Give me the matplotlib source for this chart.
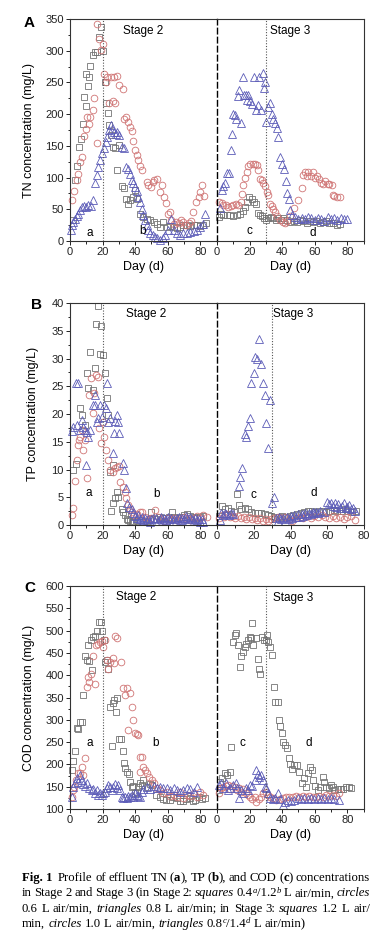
import re
import matplotlib
matplotlib.use('Agg')
import matplotlib.pyplot as plt
from matplotlib.ticker import MultipleLocator

# ---------------- TN (mg/L) ----------------
tn_s2_sq_day = [1.6, 3.1, 4.5, 5.7, 6.8, 7.8, 8.6, 9.8, 9.8, 11.3, 11.9, 12.3, 13.9, 15.2, 16.8, 18.1, 19.3,
                20.5, 21.5, 22.2, 23.4, 24.2, 25.4, 26.7, 27.7, 29.1, 29.9, 32.0, 33.2, 34.5, 35.7, 36.9,
                38.6, 40.0, 41.4, 43.1, 45.1, 47.2, 49.2, 51.3, 53.3, 55.4, 57.4, 59.5, 61.5, 63.6, 65.6,
                67.7, 69.7, 71.8, 73.8, 75.9, 77.9, 80.0, 82.0, 83.7]
tn_s2_sq_val = [33, 96, 119, 148, 161, 185, 227, 213, 263, 244, 258, 276, 294, 298, 298, 322, 338,
                300, 250, 217, 202, 183, 167, 148, 146, 112, 151, 86, 83, 67, 59, 64,
                69, 80, 67, 43, 38, 35, 33, 30, 27, 22, 30, 22, 23, 22, 20,
                22, 25, 26, 23, 25, 26, 23, 26, 28]
tn_s2_ci_day = [1.0, 2.5, 4.1, 5.1, 6.2, 7.4, 8.6, 9.8, 10.7, 11.9, 12.3, 13.9, 14.8, 16.8, 16.4, 18.1,
                18.9, 20.1, 21.1, 22.2, 23.0, 24.2, 25.4, 26.3, 27.1, 27.9, 29.1, 30.4, 32.4, 33.2, 34.5,
                35.9, 36.9, 37.9, 39.0, 40.0, 41.0, 42.0, 43.1, 44.1, 47.2, 48.2, 49.6, 50.9, 51.7, 53.3,
                55.0, 56.4, 57.8, 59.1, 60.5, 61.5, 61.9, 63.6, 65.2, 66.7, 68.1, 69.7, 71.4, 72.8, 74.3,
                75.7, 77.5, 79.0, 79.6, 81.0, 82.5]
tn_s2_ci_val = [64, 79, 96, 106, 125, 133, 165, 177, 195, 185, 196, 207, 225, 155, 342, 318,
                301, 311, 263, 251, 258, 218, 258, 221, 258, 217, 260, 246, 239, 193, 196,
                188, 180, 174, 158, 143, 135, 127, 119, 112, 93, 89, 85, 93, 96, 98,
                77, 88, 69, 60, 43, 46, 33, 27, 30, 28, 33, 30, 26, 28, 32,
                46, 62, 70, 78, 88, 71]
tn_s2_tr_day = [0.4, 1.0, 2.0, 3.1, 4.1, 5.1, 6.2, 7.4, 8.6, 9.8, 11.3, 12.7, 14.4, 15.6, 16.4, 17.4,
                18.5, 19.5, 20.9, 22.2, 23.0, 24.2, 25.0, 25.8, 27.1, 28.3, 29.1, 29.9, 31.8, 33.2, 34.5,
                35.7, 36.9, 37.9, 39.0, 40.0, 41.0, 42.0, 43.1, 44.1, 45.1, 46.2, 47.2, 48.2, 49.2, 50.9,
                52.3, 53.7, 55.4, 57.0, 58.5, 60.5, 61.9, 63.6, 65.6, 67.7, 69.7, 71.8, 73.8, 75.9, 77.9,
                80.0, 81.6, 83.1]
tn_s2_tr_val = [17, 25, 30, 35, 39, 43, 49, 53, 55, 54, 56, 55, 65, 91, 104, 117,
                127, 138, 146, 156, 164, 175, 183, 177, 172, 169, 172, 167, 148, 146, 117,
                114, 106, 96, 91, 85, 79, 69, 62, 51, 41, 33, 26, 17, 12, 9,
                6, 4, 2, 5, 9, 17, 34, 17, 12, 9, 13, 12, 14, 16, 18,
                22, 27, 43]

tn_s3_sq_day = [1.4, 2.3, 3.9, 6.0, 8.0, 10.0, 12.0, 14.0, 15.8, 17.2, 18.7, 19.9, 21.3, 22.8, 24.0, 25.4,
                26.5, 27.5, 29.0, 30.2, 31.6, 33.0, 34.7, 36.3, 37.7, 39.2, 40.8, 42.9, 44.9, 47.0, 49.0,
                51.0, 53.0, 55.0, 57.0, 59.0, 61.0, 63.0, 65.0, 67.0, 69.0, 71.0, 73.6, 75.5]
tn_s3_sq_val = [38, 43, 41, 41, 41, 39, 41, 43, 48, 53, 62, 70, 67, 62, 58, 44,
                41, 39, 36, 33, 36, 38, 36, 33, 36, 33, 36, 33, 30, 32, 30,
                33, 31, 29, 32, 30, 31, 28, 30, 32, 29, 28, 25, 27]
tn_s3_ci_day = [1.4, 2.9, 3.9, 5.5, 7.0, 8.4, 10.0, 11.7, 13.0, 14.6, 15.6, 16.2, 17.2, 18.3, 19.3, 20.3,
                21.9, 23.4, 24.4, 25.4, 26.5, 27.5, 28.5, 29.5, 30.6, 31.6, 32.6, 33.6, 34.7, 35.7, 37.0,
                38.8, 40.4, 41.8, 43.3, 44.9, 47.0, 50.0, 52.0, 53.0, 54.2, 55.2, 56.2, 57.6, 58.9, 60.3,
                61.3, 62.4, 63.8, 65.0, 66.5, 67.9, 69.1, 70.6, 71.2, 72.0, 73.6, 75.3]
tn_s3_ci_val = [62, 60, 57, 57, 53, 55, 57, 58, 57, 62, 74, 88, 99, 108, 118, 121,
                121, 122, 120, 112, 97, 96, 92, 86, 78, 73, 59, 55, 50, 45, 39,
                33, 30, 29, 32, 39, 52, 64, 83, 104, 108, 103, 108, 103, 109, 100,
                103, 97, 92, 90, 94, 90, 90, 88, 73, 71, 70, 69]
tn_s3_tr_day = [1.8, 2.9, 3.9, 5.0, 6.0, 7.6, 8.4, 9.2, 9.6, 11.0, 11.5, 13.0, 13.7, 15.0, 16.2, 16.6,
                17.8, 18.7, 19.3, 20.3, 21.3, 22.8, 24.0, 25.4, 26.0, 26.9, 28.1, 29.0, 29.5, 30.2, 31.6,
                32.6, 33.6, 34.7, 35.7, 36.7, 37.7, 38.8, 39.8, 41.4, 42.5, 43.3, 44.3, 44.9, 46.0, 48.0,
                50.0, 52.0, 54.0, 56.0, 58.0, 60.0, 62.0, 64.0, 66.0, 68.0, 70.0, 72.0, 74.0, 76.0, 78.0,
                79.8]
tn_s3_tr_val = [52, 80, 86, 92, 107, 107, 143, 169, 201, 199, 193, 228, 238, 186, 259, 230,
                230, 222, 230, 220, 216, 259, 207, 214, 259, 207, 265, 241, 251, 187, 212,
                217, 201, 193, 186, 178, 164, 133, 122, 113, 94, 76, 67, 49, 41, 38,
                35, 37, 34, 38, 36, 33, 37, 35, 32, 38, 34, 36, 33, 37, 35,
                35]

# ---------------- TP (mg/L) ----------------
tp_s2_sq_day = [2.0, 3.7, 6.2, 7.2, 9.2, 10.7, 11.3, 12.3, 13.9, 15.2, 16.0, 17.0, 18.5, 19.0, 20.5, 21.5,
                22.6, 23.6, 24.6, 25.0, 26.3, 26.7, 27.7, 28.7, 29.7, 31.8, 32.8, 33.8, 34.9, 35.9, 36.9,
                38.0, 39.0, 41.0, 43.0, 45.0, 47.0, 49.0, 50.0, 53.0, 55.0, 57.0, 59.0, 61.0, 62.5, 64.0,
                66.0, 68.0, 70.0, 72.0, 74.0, 76.0, 78.0, 80.0, 82.0]
tp_s2_sq_val = [9.9, 11.0, 21.0, 19.8, 18.0, 27.4, 24.6, 31.1, 24.3, 28.2, 36.2, 39.5, 30.9, 35.9, 30.6, 27.4,
                22.8, 19.8, 9.6, 2.5, 10.8, 3.9, 4.8, 6.0, 5.1, 2.8, 2.4, 1.8, 1.0, 0.9, 0.8,
                0.6, 0.5, 0.7, 0.9, 0.6, 0.8, 1.0, 2.4, 1.1, 1.4, 1.2, 1.3, 1.5, 2.3, 1.4,
                1.3, 1.5, 1.8, 1.9, 1.6, 1.5, 1.3, 1.4, 1.6]
tp_s2_ci_day = [1.0, 2.0, 3.1, 4.5, 5.1, 5.5, 6.2, 7.2, 8.2, 9.2, 10.7, 11.9, 12.7, 14.0, 14.8, 16.0,
                17.4, 18.0, 19.0, 20.1, 21.1, 22.2, 23.2, 24.6, 26.3, 27.7, 28.7, 29.9, 30.8, 32.4, 33.8,
                34.5, 35.9, 36.9, 38.0, 39.5, 41.0, 43.0, 44.5, 46.0, 48.0, 50.0, 52.3, 54.0, 56.0, 58.0,
                60.0, 62.0, 64.0, 66.0, 68.0, 70.0, 72.0, 74.0, 76.0, 78.0, 80.0, 82.0, 84.0]
tp_s2_ci_val = [1.8, 3.0, 7.9, 11.7, 14.4, 15.3, 15.9, 17.1, 13.5, 15.3, 8.4, 23.4, 26.4, 20.1, 23.7, 27.0,
                26.6, 17.4, 14.8, 18.6, 15.9, 13.5, 11.7, 10.0, 9.6, 10.2, 10.5, 10.6, 7.8, 6.9, 6.0,
                4.8, 3.6, 2.8, 2.3, 1.8, 2.0, 2.4, 2.3, 1.5, 1.0, 1.2, 2.7, 1.5, 1.0, 0.8,
                1.2, 1.0, 1.3, 0.9, 1.1, 1.5, 1.2, 0.9, 1.3, 1.6, 1.2, 1.8, 1.5]
tp_s2_tr_day = [1.0, 2.0, 3.7, 4.5, 5.1, 6.2, 7.2, 8.2, 9.2, 9.8, 10.7, 11.3, 12.3, 13.9, 15.4, 15.6,
                16.4, 17.4, 18.5, 19.5, 20.9, 22.2, 23.0, 23.6, 24.6, 26.3, 27.1, 27.7, 28.7, 29.7, 30.4,
                32.4, 33.2, 34.5, 35.3, 36.5, 37.9, 39.0, 40.0, 41.0, 42.0, 43.0, 44.0, 45.0, 46.0, 47.0,
                48.0, 49.0, 50.0, 51.0, 52.0, 53.0, 54.0, 55.0, 56.0, 57.0, 58.0, 59.0, 60.0, 61.0, 62.0,
                63.0, 64.0, 65.0, 66.0, 67.0, 68.0, 69.0, 70.0, 71.0, 72.0, 73.0, 74.0, 75.0, 76.0, 77.0,
                78.0, 79.0, 80.0, 81.0, 82.0]
tp_s2_tr_val = [16.9, 17.7, 25.5, 18.0, 25.6, 17.1, 18.9, 17.6, 17.1, 10.9, 16.8, 15.9, 17.1, 21.6, 23.4, 21.6,
                18.6, 19.2, 21.6, 19.5, 21.6, 21.0, 25.5, 18.6, 19.2, 12.9, 16.6, 18.8, 19.8, 18.6, 16.6,
                11.1, 9.9, 6.6, 3.9, 3.3, 2.8, 2.1, 1.6, 1.2, 1.8, 1.0, 1.4, 0.9, 1.3, 0.8,
                1.1, 0.6, 1.0, 1.3, 0.8, 1.2, 0.7, 1.0, 1.4, 0.8, 1.2, 0.9, 1.5, 1.0, 1.3,
                0.8, 1.1, 0.7, 1.2, 1.5, 0.9, 1.3, 1.0, 1.6, 1.2, 0.8, 1.4, 1.0, 0.7, 1.3,
                0.9, 1.1, 0.6, 1.0, 0.5]

tp_s3_sq_day = [1.0, 2.5, 4.2, 6.0, 7.8, 9.5, 11.1, 12.0, 13.3, 15.1, 16.9, 18.7, 20.5, 22.4, 24.2, 26.0,
                27.8, 29.6, 31.5, 33.5, 35.5, 37.5, 39.5, 41.5, 43.5, 45.5, 47.5, 49.5, 51.5, 53.5, 55.5,
                57.5, 59.5, 61.5, 63.5, 65.5, 67.5, 69.5, 71.5, 73.5, 75.5]
tp_s3_sq_val = [1.6, 3.4, 2.8, 3.0, 2.6, 2.4, 5.6, 3.6, 2.8, 3.0, 2.8, 2.4, 2.2, 2.2, 2.1, 2.0,
                1.8, 1.6, 1.5, 1.4, 1.6, 1.5, 1.7, 1.8, 2.0, 2.2, 2.4, 2.5, 2.6, 2.4, 2.5,
                2.6, 2.4, 2.5, 2.7, 2.6, 2.5, 2.8, 2.6, 2.4, 2.5]
tp_s3_ci_day = [1.0, 2.5, 4.0, 5.5, 7.0, 8.5, 10.0, 11.5, 13.0, 14.5, 16.0, 17.5, 19.0, 20.5, 22.0, 23.5,
                25.0, 26.5, 28.0, 29.5, 31.0, 33.0, 35.0, 37.0, 39.0, 41.0, 43.0, 45.0, 47.0, 49.0, 51.0,
                53.0, 55.0, 57.0, 59.0, 61.0, 63.0, 65.0, 67.0, 69.0, 71.0, 73.0, 75.0]
tp_s3_ci_val = [1.2, 1.8, 1.5, 1.9, 1.4, 1.6, 1.3, 1.7, 1.2, 1.5, 1.1, 1.4, 1.0, 1.3, 0.9, 1.2,
                0.8, 1.1, 0.7, 1.0, 1.3, 1.5, 1.2, 1.4, 1.1, 0.7, 1.3, 1.5, 1.2, 1.6, 1.3,
                1.7, 1.4, 1.8, 1.5, 1.3, 1.7, 1.2, 1.5, 1.0, 1.4, 1.6, 0.9]
tp_s3_tr_day = [1.5, 2.4, 3.3, 4.2, 5.1, 6.5, 7.8, 8.7, 12.0, 12.7, 13.8, 15.1, 16.0, 16.9, 17.8, 18.7,
                20.0, 20.5, 22.0, 22.9, 24.2, 25.1, 26.0, 26.9, 27.8, 28.7, 30.2, 30.9, 32.0, 33.0, 34.0,
                35.0, 36.0, 37.0, 38.0, 39.0, 40.0, 41.0, 42.0, 43.0, 44.0, 45.0, 46.0, 47.0, 48.0, 49.0,
                50.0, 51.0, 52.0, 53.0, 54.0, 55.0, 56.0, 58.0, 60.0, 61.0, 62.0, 63.0, 64.0, 65.0, 66.0,
                67.0, 68.0, 69.0, 70.0, 71.0, 72.0, 73.0, 74.0, 75.0]
tp_s3_tr_val = [0.9, 2.1, 1.8, 2.2, 2.0, 1.8, 2.2, 2.0, 7.0, 8.7, 10.2, 16.4, 15.9, 17.8, 19.2, 25.6,
                27.3, 30.3, 30.0, 33.6, 29.0, 25.6, 23.4, 18.4, 13.8, 22.6, 3.9, 5.1, 1.2, 0.8, 1.5,
                1.0, 1.3, 0.7, 1.4, 1.1, 1.6, 1.2, 1.8, 1.4, 1.9, 1.5, 2.0, 1.7, 2.1, 1.8,
                2.2, 2.0, 2.3, 2.1, 2.4, 2.2, 2.5, 2.3, 4.2, 3.8, 4.0, 3.5, 3.9, 3.3, 3.8,
                3.0, 3.4, 3.9, 3.1, 3.3, 3.6, 2.8, 3.0, 2.6]

# ---------------- COD (mg/L) ----------------
cod_s2_sq_day = [1.0, 2.0, 3.1, 4.1, 5.1, 6.2, 7.2, 8.2, 9.2, 10.3, 11.3, 11.9, 12.7, 13.3, 14.4, 15.4,
                 16.8, 17.8, 18.9, 19.9, 20.9, 21.7, 22.6, 23.6, 24.6, 25.6, 26.3, 27.1, 28.3, 29.1, 30.4,
                 31.2, 32.4, 33.2, 34.0, 34.9, 36.1, 36.9, 37.9, 39.0, 40.0, 41.0, 42.0, 43.1, 44.1, 45.1,
                 47.2, 49.2, 50.3, 53.0, 55.0, 57.0, 59.0, 61.5, 63.5, 65.6, 67.5, 69.7, 71.5, 73.8, 75.5,
                 77.0, 79.0, 81.0, 83.0]
cod_s2_sq_val = [187, 207, 231, 282, 279, 296, 294, 356, 443, 434, 468, 432, 479, 412, 485, 487,
                 500, 519, 519, 500, 480, 430, 434, 413, 329, 241, 337, 344, 318, 350, 256,
                 256, 229, 204, 191, 184, 178, 161, 150, 151, 135, 139, 150, 159, 154, 165,
                 150, 157, 154, 132, 128, 122, 120, 120, 126, 124, 118, 117, 122, 124, 118,
                 120, 128, 122, 125]
cod_s2_ci_day = [1.0, 1.6, 2.5, 3.7, 5.1, 6.2, 7.2, 8.2, 9.2, 10.3, 11.3, 11.9, 12.7, 14.0, 15.4, 16.0,
                 17.4, 18.5, 19.5, 20.5, 21.5, 22.6, 23.6, 24.6, 26.3, 27.1, 27.7, 29.1, 31.2, 32.4, 33.8,
                 34.9, 35.9, 36.9, 37.9, 39.0, 40.0, 41.0, 42.0, 42.7, 43.1, 44.1, 45.1, 46.2, 47.2, 48.8,
                 50.3, 51.3, 53.3, 55.4, 57.4, 59.5, 61.5, 63.6, 65.5, 67.7, 69.5, 71.8, 73.8, 75.9, 78.0,
                 80.0, 82.0]
cod_s2_ci_val = [128, 143, 150, 165, 181, 180, 195, 176, 214, 374, 397, 385, 403, 443, 381, 468,
                 471, 474, 477, 464, 480, 434, 413, 430, 438, 427, 488, 484, 430, 371, 356,
                 371, 277, 360, 329, 300, 270, 268, 266, 184, 217, 217, 195, 187, 181, 172,
                 165, 158, 146, 143, 135, 139, 130, 132, 128, 139, 125, 132, 130, 135, 128,
                 139, 132]
cod_s2_tr_day = [1.0, 2.0, 3.1, 4.1, 5.1, 6.2, 7.2, 8.2, 9.2, 10.7, 11.9, 13.3, 14.4, 15.4, 16.4, 17.4,
                 18.5, 19.5, 20.5, 21.5, 22.6, 23.6, 24.6, 25.6, 26.7, 27.7, 28.7, 29.7, 30.8, 31.8, 32.8,
                 33.8, 34.9, 35.9, 36.9, 37.9, 39.0, 40.0, 41.0, 42.0, 43.1, 44.1, 45.1, 47.2, 49.2, 51.3,
                 53.3, 55.4, 57.4, 59.5, 61.5, 63.6, 65.6, 67.7, 69.7, 71.8, 73.8, 75.9, 77.9]
cod_s2_tr_val = [128, 150, 159, 169, 161, 176, 165, 156, 152, 158, 146, 143, 144, 135, 143, 131,
                 135, 131, 135, 139, 146, 154, 150, 143, 150, 156, 146, 154, 143, 128, 124,
                 128, 124, 129, 128, 131, 128, 135, 131, 129, 128, 139, 144, 150, 144, 152,
                 146, 150, 146, 146, 143, 146, 143, 139, 143, 146, 144, 139, 150]

cod_s3_sq_day = [1.2, 2.0, 3.3, 4.7, 6.1, 7.8, 8.8, 9.8, 11.0, 11.8, 13.1, 13.9, 14.9, 15.9, 16.9, 18.0,
                 19.0, 20.0, 21.0, 21.6, 22.4, 23.7, 25.1, 26.1, 26.5, 27.8, 28.6, 29.8, 30.6, 31.2, 32.7,
                 33.9, 35.3, 35.9, 37.3, 38.0, 38.8, 40.0, 40.8, 42.0, 42.9, 44.1, 44.9, 46.1, 47.6, 49.0,
                 50.6, 52.2, 53.7, 54.7, 55.7, 57.1, 58.4, 59.2, 60.4, 61.8, 63.3, 64.9, 65.9, 66.9, 68.6,
                 70.0, 71.0, 72.0, 74.1, 76.1, 77.6, 79.2, 80.8, 82.2]
cod_s3_sq_val = [143, 161, 169, 180, 176, 182, 238, 475, 490, 495, 468, 419, 442, 453, 464, 471,
                 479, 486, 483, 518, 468, 483, 436, 413, 403, 486, 480, 480, 490, 475, 463,
                 445, 374, 341, 341, 300, 285, 271, 251, 243, 236, 214, 202, 189, 199, 199,
                 184, 159, 169, 150, 180, 195, 187, 166, 152, 143, 150, 171, 161, 150, 146,
                 154, 149, 143, 144, 144, 144, 149, 149, 146]
cod_s3_ci_day = [1.2, 2.7, 3.7, 5.3, 6.7, 7.8, 9.4, 10.8, 12.2, 13.5, 14.9, 15.9, 17.6, 19.0, 20.4, 21.6,
                 23.1, 24.1, 25.7, 27.1, 28.2, 29.8, 31.2, 32.7, 34.3, 36.3, 38.4, 40.4, 42.4, 44.5, 46.5,
                 48.6, 50.6, 52.7, 54.7, 56.7, 58.8, 60.8, 62.9, 64.9, 66.9, 69.0, 71.0, 73.1, 74.7]
cod_s3_ci_val = [135, 146, 150, 152, 154, 144, 152, 149, 143, 146, 139, 144, 135, 131, 128, 122,
                 128, 116, 122, 128, 135, 139, 131, 128, 124, 120, 122, 124, 126, 128, 126,
                 129, 128, 129, 128, 129, 126, 128, 129, 128, 131, 129, 131, 129, 135]
cod_s3_tr_day = [1.2, 2.7, 3.7, 5.3, 6.7, 8.2, 9.8, 11.4, 12.2, 13.5, 14.9, 15.9, 17.6, 19.0, 20.4, 21.6,
                 23.1, 24.1, 25.1, 26.1, 27.1, 28.2, 29.2, 30.2, 31.2, 32.7, 34.3, 35.9, 37.3, 38.8, 40.4,
                 42.0, 43.5, 45.5, 47.6, 49.6, 51.6, 53.7, 55.7, 57.8, 59.8, 61.8, 63.9, 65.9, 68.0, 70.0,
                 72.0, 75.1]
cod_s3_tr_val = [154, 158, 146, 158, 143, 146, 154, 159, 146, 124, 143, 135, 146, 143, 154, 152,
                 165, 187, 178, 172, 176, 165, 150, 146, 135, 124, 122, 124, 135, 122, 109,
                 116, 120, 119, 120, 124, 122, 124, 122, 124, 122, 124, 122, 124, 122, 124,
                 122, 120]

# caption: **bold**, *italic*, ^x = italic superscript, ~ = non-breaking space
caption = [
    "**Fig.~1**~ Profile of effluent TN (**a**), TP (**b**), and COD (**c**) concentrations",
    "in Stage 2 and Stage 3 (in Stage 2: *squares* 0.4^a/1.2^b L air/min, *circles*",
    "0.6 L air/min, *triangles* 0.8 L air/min; in Stage 3: *squares* 1.2 L air/",
    "min, *circles* 1.0 L air/min, *triangles* 0.8^c/1.4^d L air/min)",
]

STYLES = [dict(marker='s', color='#747474', ms=4.6),
          dict(marker='o', color='#d07474', ms=4.8),
          dict(marker='^', color='#5c5cb8', ms=5.2)]

W, H = 388, 931
fig = plt.figure(figsize=(W / 100, H / 100), dpi=100)
plt.rcParams['font.family'] = ['Liberation Sans', 'DejaVu Sans']

X0, XM, X1 = 70, 217, 364


def fx(px):
    return px / W


def fy(py):
    return 1 - py / H


def style_axis(ax, ymin, ymax, ystep):
    ax.set_ylim(ymin, ymax)
    ax.xaxis.set_major_locator(MultipleLocator(20))
    ax.xaxis.set_minor_locator(MultipleLocator(10))
    ax.yaxis.set_major_locator(MultipleLocator(ystep))
    ax.yaxis.set_minor_locator(MultipleLocator(ystep / 2))
    ax.tick_params(which='major', direction='out', length=3, width=0.7, labelsize=8, pad=1.5,
                   colors='#222222')
    ax.tick_params(which='minor', direction='out', length=1.8, width=0.6)
    for s in ax.spines.values():
        s.set_linewidth(0.8)
        s.set_color('#333333')
    ax.set_xlabel('Day (d)', fontsize=9, labelpad=3)


def panel(top_px, bot_px, ymin, ymax, ystep, right_xmax, ylabel, letter, letter_xy,
          s2, s3, s2_text, s3_text, labels, ylab_x):
    h = fy(bot_px)
    axl = fig.add_axes([fx(X0), h, fx(XM - X0), fy(top_px) - h])
    axr = fig.add_axes([fx(XM), h, fx(X1 - XM), fy(top_px) - h])
    axl.set_xlim(0, 90.3)
    axr.set_xlim(0, right_xmax)
    for ax in (axl, axr):
        style_axis(ax, ymin, ymax, ystep)
    axl.spines['right'].set_visible(False)
    axr.spines['left'].set_linestyle((0, (4, 2.5)))
    axr.spines['left'].set_color('black')
    axr.spines['left'].set_linewidth(1.0)
    axr.tick_params(axis='y', which='both', left=False, labelleft=False)

    for ax, series in ((axl, s2), (axr, s3)):
        for (d, v), st in zip(series, STYLES):
            ax.plot(d, v, ls='none', marker=st['marker'], ms=st['ms'], mfc='none',
                    mec=st['color'], mew=0.6, clip_on=False)
    axl.axvline(20, color='#555555', ls=(0, (1, 1.5)), lw=0.8)
    axr.axvline(30, color='#555555', ls=(0, (1, 1.5)), lw=0.8)

    axl.text(s2_text[0], s2_text[1], 'Stage 2', fontsize=8.5, va='center', ha='left')
    axr.text(s3_text[0], s3_text[1], 'Stage 3', fontsize=8.5, va='center', ha='left')
    for ax, lab in ((axl, labels[0]), (axl, labels[1]), (axr, labels[2]), (axr, labels[3])):
        ax.text(lab[0], lab[1], lab[2], fontsize=8.5, ha='center', va='center')

    axl.set_ylabel(ylabel, fontsize=9)
    axl.yaxis.set_label_coords(ylab_x, 0.5)
    fig.text(fx(letter_xy[0]), fy(letter_xy[1]), letter, fontsize=11, fontweight='bold',
             ha='center', va='center')


panel(19, 241, 0, 350, 50, 90.3, 'TN concentration (mg/L)', 'A', (29, 23),
      [(tn_s2_sq_day, tn_s2_sq_val), (tn_s2_ci_day, tn_s2_ci_val), (tn_s2_tr_day, tn_s2_tr_val)],
      [(tn_s3_sq_day, tn_s3_sq_val), (tn_s3_ci_day, tn_s3_ci_val), (tn_s3_tr_day, tn_s3_tr_val)],
      (32.6, 331), (32.6, 331),
      [(12.3, 12, 'a'), (44.7, 15, 'b'), (19.9, 15, 'c'), (58.7, 12, 'd')], -0.235)

panel(303, 525, 0, 40, 5, 80, 'TP concentration (mg/L)', 'B', (37, 305),
      [(tp_s2_sq_day, tp_s2_sq_val), (tp_s2_ci_day, tp_s2_ci_val), (tp_s2_tr_day, tp_s2_tr_val)],
      [(tp_s3_sq_day, tp_s3_sq_val), (tp_s3_ci_day, tp_s3_ci_val), (tp_s3_tr_day, tp_s3_tr_val)],
      (34.5, 38), (30.5, 38),
      [(11.3, 5.7, 'a'), (53.3, 5.6, 'b'), (19.6, 5.4, 'c'), (52.4, 5.7, 'd')], -0.21)

panel(586, 809, 100, 600, 50, 90.3, 'COD concentration (mg/L)', 'C', (30, 588),
      [(cod_s2_sq_day, cod_s2_sq_val), (cod_s2_ci_day, cod_s2_ci_val), (cod_s2_tr_day, cod_s2_tr_val)],
      [(cod_s3_sq_day, cod_s3_sq_val), (cod_s3_ci_day, cod_s3_ci_val), (cod_s3_tr_day, cod_s3_tr_val)],
      (28.3, 575), (34.5, 573),
      [(11.9, 249, 'a'), (52.7, 247, 'b'), (15.9, 249, 'c'), (56.1, 249, 'd')], -0.235)


# ---- caption, set word by word so the first lines can be justified ----
CAP_FS = 9.2
CAP_FAMILY = ['Liberation Serif', 'DejaVu Serif']
renderer = fig.canvas.get_renderer()


def run_text(txt, kind):
    kw = dict(fontsize=CAP_FS, family=CAP_FAMILY, va='baseline', ha='left')
    if kind == 'b':
        kw['fontweight'] = 'bold'
    elif kind == 'i':
        kw['style'] = 'italic'
    elif kind == 'sup':
        kw['style'] = 'italic'
        kw['fontsize'] = CAP_FS * 0.68
    t = fig.text(0, 0, txt.replace('~', ' '), **kw)
    return t, t.get_window_extent(renderer).width


def draw_line(line, x_left, x_right, base_y, justify):
    words = []
    for w in line.split(' '):
        runs = []
        for part in re.split(r'(\*\*[^*]+\*\*|\*[^*]+\*|\^\w)', w):
            if not part:
                continue
            if part.startswith('**'):
                runs.append(run_text(part[2:-2], 'b') + ('b',))
            elif part.startswith('*'):
                runs.append(run_text(part[1:-1], 'i') + ('i',))
            elif part.startswith('^'):
                runs.append(run_text(part[1:], 'sup') + ('sup',))
            else:
                runs.append(run_text(part, 'n') + ('n',))
        words.append(runs)
    widths = [sum(r[1] for r in runs) for runs in words]
    if justify and len(words) > 1:
        gap = (x_right - x_left - sum(widths)) / (len(words) - 1)
    else:
        gap = CAP_FS * 100 / 72 * 0.25
    x = x_left
    for runs, wd in zip(words, widths):
        cx = x
        for t, w, kind in runs:
            dy = 3.6 if kind == 'sup' else 0
            t.set_position((fx(cx), fy(base_y - dy)))
            cx += w
        x += wd + gap


for i, line in enumerate(caption):
    draw_line(line, 22, 370, 881 + i * 15.3, justify=(i < len(caption) - 1))

fig.savefig('out.png', dpi=100)
